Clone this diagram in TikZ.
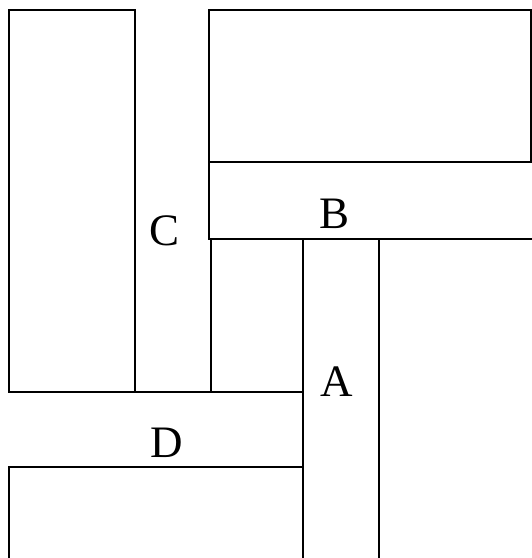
\documentclass[tikz,border=0pt]{standalone}
\usepackage{fontspec}
\setmainfont{Liberation Serif}
\usepackage{tikz}

\begin{document}
\begin{tikzpicture}[x=1pt, y=-1pt, line width=2pt,
  piece/.style={draw=black},
  letter/.style={inner sep=0pt, font=\fontsize{45}{48}\selectfont}]
\useasboundingbox (0,0) rectangle (532,558);
% left block and top block
\draw[piece] (9,10) rectangle (135,392);
\draw[piece] (209,10) rectangle (531,162);
% strip B
\draw[piece] (532,162) -- (209,162) -- (209,239) -- (532,239);
% strip A
\draw[piece] (303,558) -- (303,239);
\draw[piece] (379,558) -- (379,239);
% block between C and A
\draw[piece] (211,239) -- (211,392);
% strip D
\draw[piece] (135,392) -- (303,392);
\draw[piece] (9,558) -- (9,467) -- (303,467);
% letters
\node[letter] (lblA) at (337,382) {A};
\node[letter] (lblB) at (335,214) {B};
\node[letter] (lblC) at (165,231) {C};
\node[letter] (lblD) at (167,443) {D};
\end{tikzpicture}
\end{document}
